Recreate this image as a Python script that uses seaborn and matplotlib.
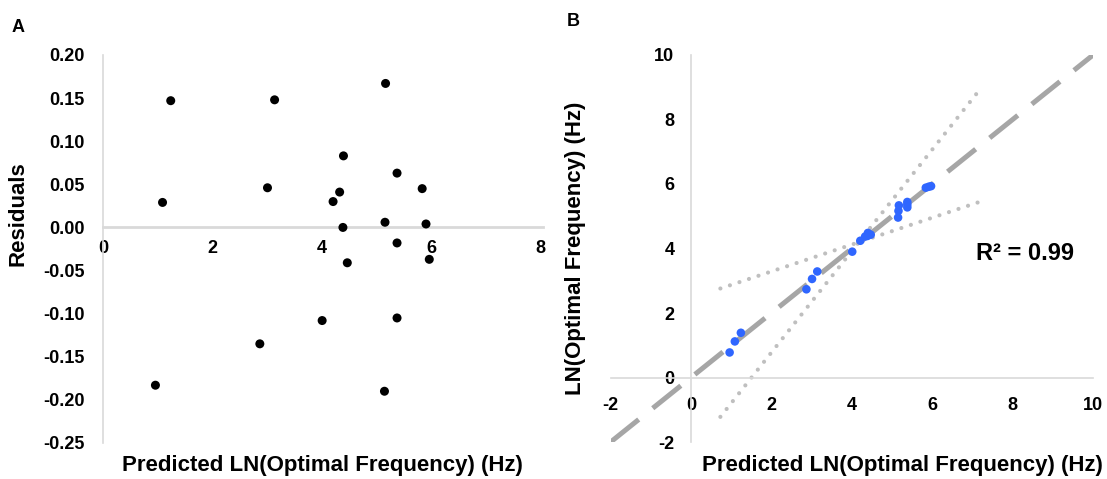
import numpy as np
import pandas as pd
import matplotlib
matplotlib.use("Agg")
import matplotlib.pyplot as plt
import seaborn as sns

# Predicted LN(optimal frequency) and residuals for each sample
predicted = [1.24, 3.14, 5.17, 4.40, 5.38, 3.01, 4.33, 5.84, 1.09, 4.21, 5.16,
             5.91, 4.39, 5.38, 4.47, 5.97, 4.01, 5.38, 2.87, 0.96, 5.15]
residuals = [0.147, 0.148, 0.167, 0.083, 0.063, 0.046, 0.041, 0.045, 0.029, 0.030, 0.006,
             0.004, 0.000, -0.018, -0.041, -0.037, -0.108, -0.105, -0.135, -0.183, -0.190]

# Identity line and the two dotted bounding lines
identity_x = [-2, 10]
bound_x = [0.73, 7.14]
bound_steep_y = [-1.22, 8.86]
bound_shallow_y = [2.76, 5.43]
r_squared = 0.99

res_ticks_y = [-0.25, -0.20, -0.15, -0.10, -0.05, 0.00, 0.05, 0.10, 0.15, 0.20]
res_ticks_x = [0, 2, 4, 6, 8]
fit_ticks = [-2, 0, 2, 4, 6, 8, 10]

df = pd.DataFrame({"predicted": predicted, "residual": residuals})
df["observed"] = df["predicted"] + df["residual"]

sns.set_style("white")
plt.rcParams["font.family"] = ["Liberation Sans", "DejaVu Sans"]
plt.rcParams["font.weight"] = "bold"
plt.rcParams["axes.unicode_minus"] = False
plt.rcParams["text.color"] = "black"
plt.rcParams["axes.labelcolor"] = "black"
plt.rcParams["xtick.labelcolor"] = "black"
plt.rcParams["ytick.labelcolor"] = "black"

AXIS_GRAY = "#d9d9d9"
TICK_FS = 13
LABEL_FS = 16

fig = plt.figure(figsize=(11.07, 4.79), dpi=100)
axA = fig.add_axes([0.0930, 0.0752, 0.3975, 0.8100])
axB = fig.add_axes([0.5516, 0.0772, 0.4358, 0.8080])

# ---- Panel A: residual plot ----
sns.scatterplot(data=df, x="predicted", y="residual", ax=axA, color="black",
                s=42, edgecolor="none", zorder=3)
axA.set_xlim(0, 8.05)
axA.set_ylim(-0.25, 0.20)
axA.set_xticks(res_ticks_x)
axA.set_yticks(res_ticks_y)
axA.set_yticklabels([f"{v:.2f}" for v in res_ticks_y])
for s in ("top", "right"):
    axA.spines[s].set_visible(False)
axA.spines["bottom"].set_position(("data", 0))
axA.spines["bottom"].set_bounds(0, 8.05)
for s in ("left", "bottom"):
    axA.spines[s].set_color(AXIS_GRAY)
axA.spines["left"].set_linewidth(1.2)
axA.spines["bottom"].set_linewidth(2.0)
axA.tick_params(axis="both", length=0, labelsize=TICK_FS, labelcolor="black")
axA.tick_params(axis="x", pad=9)
axA.tick_params(axis="y", pad=13)
for lab in axA.get_xticklabels() + axA.get_yticklabels():
    lab.set_fontweight("bold")
axA.set_ylabel("Residuals", fontsize=LABEL_FS, fontweight="bold", color="black")
axA.yaxis.set_label_coords(-0.17, 0.59)
axA.set_xlabel("")
fig.text(0.2916, 0.028, "Predicted LN(Optimal Frequency) (Hz)", fontsize=LABEL_FS,
         fontweight="bold", ha="center", va="center", color="black")
fig.text(0.016, 0.942, "A", fontsize=13, fontweight="bold", ha="center", va="center",
         color="black")

# ---- Panel B: observed vs predicted ----
axB.plot(identity_x, identity_x, color="#a6a6a6", lw=3.6, dashes=(7.2, 3.6),
         solid_capstyle="butt", zorder=2)
axB.plot(bound_x, bound_steep_y, color="#bfbfbf", lw=3.0, dashes=(0.01, 2.4),
         dash_capstyle="round", zorder=1)
axB.plot(bound_x, bound_shallow_y, color="#bfbfbf", lw=3.0, dashes=(0.01, 2.4),
         dash_capstyle="round", zorder=1)
sns.scatterplot(data=df, x="predicted", y="observed", ax=axB, color="#2f66ff",
                s=38, edgecolor="none", zorder=3)
axB.set_xlim(-2, 10)
axB.set_ylim(-2, 10)
axB.set_xticks(fit_ticks)
axB.set_yticks(fit_ticks)
for s in ("top", "right"):
    axB.spines[s].set_visible(False)
axB.spines["bottom"].set_position(("data", 0))
axB.spines["left"].set_position(("data", 0))
for s in ("left", "bottom"):
    axB.spines[s].set_color(AXIS_GRAY)
    axB.spines[s].set_linewidth(1.2)
axB.tick_params(axis="both", direction="inout", length=8, width=1.2,
                color=AXIS_GRAY, labelsize=TICK_FS, labelcolor="black")
axB.tick_params(axis="x", pad=10)
axB.tick_params(axis="y", pad=8)
for lab in axB.get_xticklabels() + axB.get_yticklabels():
    lab.set_fontweight("bold")
axB.set_xlabel("")
axB.set_ylabel("LN(Optimal Frequency) (Hz)", fontsize=LABEL_FS, fontweight="bold",
               color="black")
axB.yaxis.set_label_coords(-0.051, 0.5)
axB.text(7.09, 3.85, f"R\u00b2 = {r_squared:.2f}", fontsize=LABEL_FS + 1,
         fontweight="bold", ha="left", va="center", color="black")
fig.text(0.8152, 0.028, "Predicted LN(Optimal Frequency) (Hz)", fontsize=LABEL_FS,
         fontweight="bold", ha="center", va="center", color="black")
fig.text(0.518, 0.955, "B", fontsize=13, fontweight="bold", ha="center", va="center",
         color="black")

fig.savefig("out.png", dpi=100)
